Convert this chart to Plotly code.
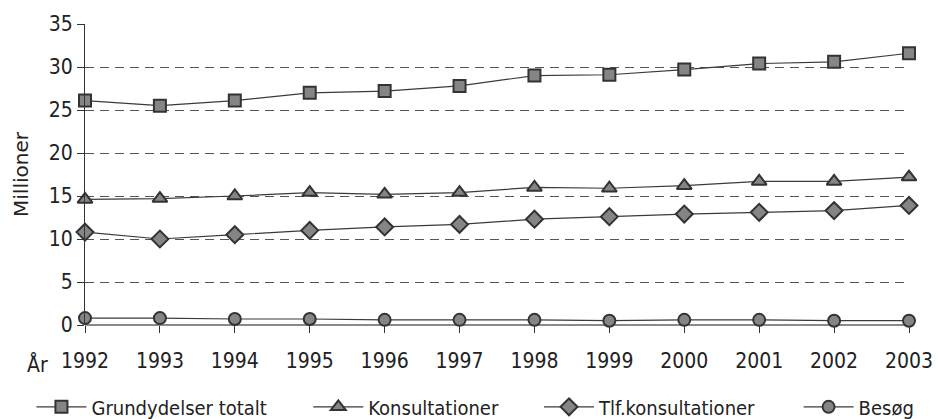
import plotly.graph_objects as go

years = [1992, 1993, 1994, 1995, 1996, 1997, 1998, 1999, 2000, 2001, 2002, 2003]
grundydelser = [26.1, 25.5, 26.1, 27.0, 27.2, 27.8, 29.0, 29.1, 29.7, 30.4, 30.6, 31.6]
konsultationer = [14.6, 14.7, 15.0, 15.4, 15.2, 15.4, 16.0, 15.9, 16.2, 16.7, 16.7, 17.2]
tlf_konsultationer = [10.8, 10.0, 10.5, 11.0, 11.4, 11.7, 12.3, 12.6, 12.9, 13.1, 13.3, 13.9]
besoeg = [0.8, 0.8, 0.7, 0.7, 0.6, 0.6, 0.6, 0.5, 0.6, 0.6, 0.5, 0.5]
y_ticks = [0, 5, 10, 15, 20, 25, 30, 35]

FONT = "DejaVu Sans Condensed, Liberation Sans Narrow, DejaVu Sans"

# name, values, marker symbol, marker size, legend id, legend x (paper)
series = [
    ("Grundydelser totalt", grundydelser, "square", 12, "legend", -0.065),
    ("Konsultationer", konsultationer, "triangle-up", 13, "legend2", 0.271),
    ("Tlf.konsultationer", tlf_konsultationer, "diamond", 13, "legend3", 0.551),
    ("Besøg", besoeg, "circle", 12, "legend4", 0.866),
]

fig = go.Figure()
for name, vals, symbol, size, leg, _ in series:
    fig.add_trace(go.Scatter(
        x=years, y=vals, name=name, mode="lines+markers", legend=leg,
        line=dict(color="#3a3a3a", width=1.2),
        marker=dict(symbol=symbol, size=size, color="#858585",
                    line=dict(color="#333333", width=2)),
        cliponaxis=False,
    ))

legends = {}
for name, vals, symbol, size, leg, lx in series:
    legends[leg] = dict(orientation="h", x=lx, xanchor="left", y=-0.272, yanchor="middle",
                        font=dict(size=20, family=FONT), itemwidth=50,
                        bgcolor="rgba(0,0,0,0)")

fig.add_annotation(text="År", xref="paper", yref="paper", x=-0.0425, y=-0.13,
                   xanchor="right", yanchor="middle", showarrow=False,
                   font=dict(size=21, color="#222", family=FONT))

fig.update_layout(
    width=938, height=419,
    paper_bgcolor="white", plot_bgcolor="white",
    font=dict(family=FONT, size=21, color="#222"),
    margin=dict(l=85, r=29, t=24, b=94, autoexpand=False),
    showlegend=True,
    **legends,
    xaxis=dict(range=[1992, 2003], tickvals=years, showgrid=False, zeroline=False,
               showline=False, ticks="outside", ticklen=7, tickcolor="#333",
               ticklabelstandoff=10, automargin=False),
    yaxis=dict(range=[0, 35], tickvals=y_ticks, showgrid=True, gridcolor="#555",
               griddash="9px,6px", gridwidth=1, zeroline=True, zerolinecolor="#8a8a8a",
               zerolinewidth=2, showline=True, linecolor="#333", linewidth=1,
               ticks="outside", ticklen=7, tickcolor="#333", automargin=False,
               title=dict(text="Millioner", standoff=14,
                          font=dict(size=20, family="DejaVu Sans"))),
)

fig.write_html("out.html", config={"displayModeBar": False},
               post_script="document.body.style.margin='0';")
